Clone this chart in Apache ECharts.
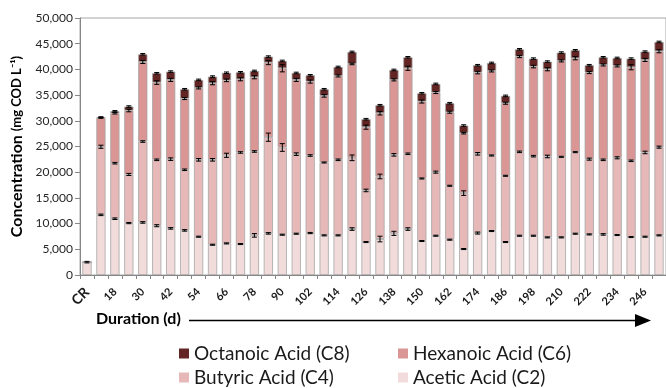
<!DOCTYPE html>
<html>
<head>
<meta charset="utf-8">
<script src="https://cdn.jsdelivr.net/npm/echarts@6/dist/echarts.min.js"></script>
<style>
  html, body { margin: 0; padding: 0; background: #fff; }
  #chart { width: 666px; height: 388px; }
</style>
</head>
<body>
<div id="chart"></div>
<script>
// categories: CR then every 6 days
const days = ['CR', '12', '18', '24', '30', '36', '42', '48', '54', '60', '66', '72', '78', '84',
  '90', '96', '102', '108', '114', '120', '126', '132', '138', '144', '150', '156', '162', '168',
  '174', '180', '186', '192', '198', '204', '210', '216', '222', '228', '234', '240', '246', '252'];

// mg COD/L per acid (stack segments)
const acetic = [2500, 11700, 10950, 10100, 10230, 9590, 9070, 8680, 7450, 5890, 6150, 6020, 7710, 8100,
  7840, 8030, 8160, 7710, 7710, 8940, 6410, 7000, 8100, 8940, 6610, 7640, 6870, 5050,
  8160, 8550, 6410, 7640, 7640, 7320, 7320, 8030, 7900, 7900, 7770, 7380, 7450, 7710];
const butyric = [0, 13250, 10800, 9460, 15740, 12820, 13470, 11790, 14960, 16520, 17140, 17820, 16320, 18710,
  16970, 15480, 15090, 14180, 14700, 13860, 10040, 12170, 15280, 14640, 12170, 12370, 10490, 10880,
  15420, 14700, 12890, 16320, 15480, 15740, 15670, 15870, 14640, 14510, 15030, 14840, 16390, 17160];
const hexanoic = [0, 5630, 9720, 12440, 15480, 15030, 15420, 13860, 13990, 14900, 14580, 14240, 14440, 14510,
  15410, 14450, 14380, 12960, 16320, 18260, 12310, 12310, 14580, 16640, 14970, 15490, 14310, 11660,
  15800, 16450, 14120, 18530, 17430, 16970, 18660, 18270, 16840, 18460, 17880, 18200, 18000, 18660];
const octanoic = [0, 130, 400, 770, 1490, 1810, 1610, 1810, 1560, 1290, 1480, 1360, 1230, 1170,
  1430, 1350, 1230, 1290, 1750, 2340, 1550, 1550, 1940, 2140, 1610, 1680, 1750, 1490,
  1430, 1560, 1430, 1420, 1550, 1490, 1620, 1550, 1430, 1490, 1550, 1680, 1620, 1810];

// error bar half-widths (std dev)
const errC2 = [150, 150, 150, 120, 150, 200, 150, 150, 100, 100, 100, 100, 350, 150,
  100, 100, 120, 100, 100, 250, 100, 550, 400, 250, 100, 100, 100, 100,
  200, 100, 100, 100, 100, 100, 100, 100, 100, 150, 100, 100, 100, 100];
const errC4 = [0, 300, 150, 200, 150, 150, 250, 150, 250, 250, 400, 150, 150, 800,
  750, 250, 150, 100, 150, 550, 250, 450, 250, 150, 100, 200, 100, 450,
  250, 100, 100, 150, 150, 250, 100, 100, 200, 150, 200, 150, 250, 200];
const errC6 = [0, 100, 150, 250, 300, 350, 300, 200, 200, 300, 250, 300, 300, 400,
  700, 300, 300, 250, 200, 150, 400, 350, 200, 400, 300, 200, 200, 150,
  250, 200, 200, 200, 250, 300, 200, 300, 200, 200, 200, 500, 300, 300];
const errC8 = [0, 80, 120, 150, 150, 150, 150, 150, 150, 150, 150, 150, 150, 150,
  150, 150, 150, 150, 150, 150, 150, 150, 150, 150, 150, 150, 150, 150,
  150, 150, 150, 150, 150, 150, 150, 150, 150, 150, 150, 150, 150, 150];

const yTicks = [0, 5000, 10000, 15000, 20000, 25000, 30000, 35000, 40000, 45000, 50000];

const FONT = 'Lato';
const names = ['Acetic Acid (C2)', 'Butyric Acid (C4)', 'Hexanoic Acid (C6)', 'Octanoic Acid (C8)'];
const colors = ['#f2dcdb', '#e6b9b8', '#d99694', '#632523'];
const segs = [acetic, butyric, hexanoic, octanoic];
const errs = [errC2, errC4, errC6, errC8];

// running top of each stack segment, for the error bars
const tops = [];
segs.forEach((arr, k) => {
  tops.push(arr.map((v, i) => v + (k > 0 ? tops[k - 1][i] : 0)));
});

const barSeries = segs.map((arr, k) => ({
  name: names[k],
  type: 'bar',
  stack: 'total',
  data: arr,
  barWidth: '66%',
  itemStyle: { color: colors[k], borderColor: '#a6a6a6', borderWidth: 0.8 },
}));

const errSeries = segs.map((arr, k) => ({
  name: 'err' + k,
  type: 'custom',
  z: 5,
  silent: true,
  data: tops[k].map((t, i) => [i, t, arr[i] > 0 ? errs[k][i] : 0]),
  encode: { x: 0, y: 1 },
  renderItem(params, api) {
    const e = api.value(2);
    if (!e) return;
    const i = api.value(0), t = api.value(1);
    const a = api.coord([i, t + e]);
    const b = api.coord([i, t - e]);
    const w = 2.5;
    const st = { stroke: '#000', lineWidth: 1 };
    return {
      type: 'group',
      children: [
        { type: 'line', shape: { x1: a[0], y1: a[1], x2: b[0], y2: b[1] }, style: st },
        { type: 'line', shape: { x1: a[0] - w, y1: a[1], x2: a[0] + w, y2: a[1] }, style: st },
        { type: 'line', shape: { x1: b[0] - w, y1: b[1], x2: b[0] + w, y2: b[1] }, style: st },
      ],
    };
  },
}));

const legendBase = {
  orient: 'horizontal',
  padding: 0,
  itemWidth: 10,
  itemHeight: 10,
  itemGap: 5,
  icon: 'rect',
  itemStyle: { borderWidth: 0 },
  textStyle: { fontFamily: FONT, fontSize: 19, color: '#1a1a1a' },
};

const chart = echarts.init(document.getElementById('chart'));
chart.setOption({
  animation: false,
  textStyle: { fontFamily: FONT },
  grid: {
    left: 80, right: -2, top: 18, bottom: 113,
    show: true, borderColor: '#a6a6a6', borderWidth: 1, backgroundColor: 'transparent',
  },
  legend: [
    Object.assign({}, legendBase, { data: [names[3]], left: 179, top: 344 }),
    Object.assign({}, legendBase, { data: [names[2]], left: 398, top: 344 }),
    Object.assign({}, legendBase, { data: [names[1]], left: 179, top: 368 }),
    Object.assign({}, legendBase, { data: [names[0]], left: 398, top: 368 }),
  ],
  xAxis: {
    type: 'category',
    data: days,
    boundaryGap: true,
    axisLine: { lineStyle: { color: '#868686', width: 1 } },
    axisTick: { show: true, length: 4, interval: 0, lineStyle: { color: '#868686' } },
    axisLabel: {
      interval: 1,
      rotate: 45,
      margin: 15,
      fontFamily: FONT,
      fontSize: 11,
      fontWeight: 'bold',
      color: '#1a1a1a',
      formatter: v => (v === 'CR' ? '{cr|CR}' : v),
      rich: { cr: { fontFamily: FONT, fontSize: 14, fontWeight: 'bold', color: '#1a1a1a' } },
    },
  },
  yAxis: {
    type: 'value',
    min: yTicks[0],
    max: yTicks[yTicks.length - 1],
    interval: yTicks[1] - yTicks[0],
    name: '{a|Concentration }{b|(mg COD L⁻¹)}',
    nameLocation: 'middle',
    nameRotate: 90,
    nameGap: 54,
    nameTextStyle: {
      rich: {
        a: { fontFamily: FONT, fontSize: 16, fontWeight: 'bold', color: '#000' },
        b: { fontFamily: FONT, fontSize: 13, fontWeight: 'bold', color: '#000' },
      },
    },
    splitLine: { show: false },
    axisLine: { show: true, lineStyle: { color: '#868686', width: 1 } },
    axisTick: { show: true, length: 5, lineStyle: { color: '#868686' } },
    axisLabel: {
      fontFamily: FONT,
      fontSize: 12,
      color: '#262626',
      margin: 7,
      formatter: v => v.toLocaleString('en-US'),
    },
  },
  graphic: [
    {
      type: 'text', left: 96, top: 311,
      style: { text: 'Duration (d)', font: 'bold 16px ' + FONT, fill: '#000' },
    },
    {
      type: 'line',
      shape: { x1: 189, y1: 320.5, x2: 637, y2: 320.5 },
      style: { stroke: '#000', lineWidth: 1.5 },
    },
    {
      type: 'polygon',
      shape: { points: [[635, 314], [651, 320.5], [635, 327]] },
      style: { fill: '#000' },
    },
  ],
  series: barSeries.concat(errSeries),
});
</script>
</body>
</html>
